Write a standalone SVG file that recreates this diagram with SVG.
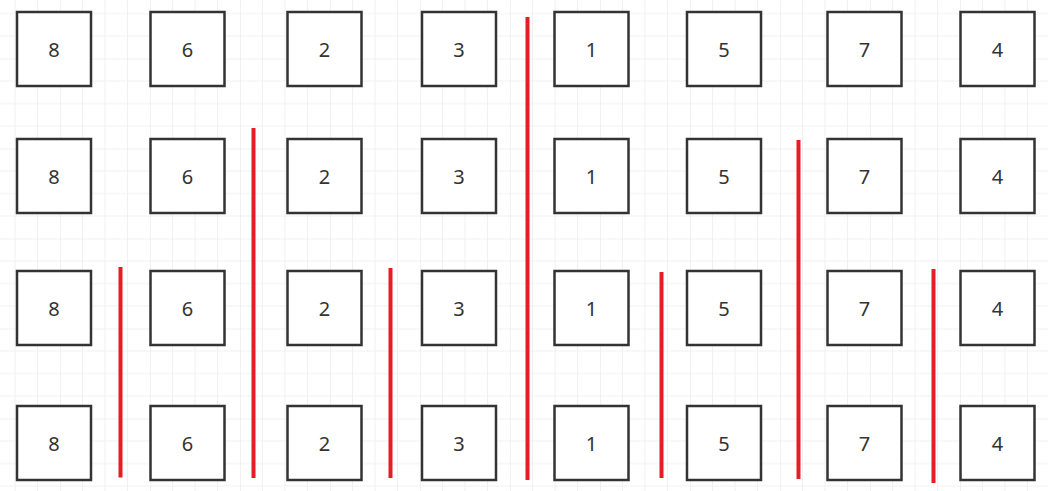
<svg xmlns="http://www.w3.org/2000/svg" width="1048" height="491" viewBox="0 0 1048 491">
<defs>
<pattern id="grid" patternUnits="userSpaceOnUse" x="60" y="58.5" width="90" height="90">
<path d="M22.5 0V90M45 0V90M67.5 0V90M0 22.5H90M0 45H90M0 67.5H90" stroke="#f0f0f0" stroke-width="1" fill="none"/>
<path d="M0 0V90M0 0H90" stroke="#e4e4e4" stroke-width="1" fill="none"/>
</pattern>
<style>
.box rect{fill:#fff;stroke:#333;stroke-width:2.5}
.box text{font-family:"Noto Sans","Liberation Sans",sans-serif;font-size:20px;fill:#333;text-anchor:middle;dominant-baseline:central}
.cut line{stroke:#e81c24;stroke-width:4;stroke-linecap:butt}
</style>
</defs>
<rect width="1048" height="491" fill="#fff"/>
<rect width="1048" height="491" fill="url(#grid)"/>
<g id="row1">
<g id="n1-8" class="box"><rect x="17" y="12" width="74" height="74"/><text x="54" y="49">8</text></g>
<g id="n1-6" class="box"><rect x="150.5" y="12" width="74" height="74"/><text x="187.5" y="49">6</text></g>
<g id="n1-2" class="box"><rect x="287.5" y="12" width="74" height="74"/><text x="324.5" y="49">2</text></g>
<g id="n1-3" class="box"><rect x="422" y="12" width="74" height="74"/><text x="459" y="49">3</text></g>
<g id="n1-1" class="box"><rect x="554.5" y="12" width="74" height="74"/><text x="591.5" y="49">1</text></g>
<g id="n1-5" class="box"><rect x="687" y="12" width="74" height="74"/><text x="724" y="49">5</text></g>
<g id="n1-7" class="box"><rect x="827.5" y="12" width="74" height="74"/><text x="864.5" y="49">7</text></g>
<g id="n1-4" class="box"><rect x="960.5" y="12" width="74" height="74"/><text x="997.5" y="49">4</text></g>
</g>
<g id="row2">
<g id="n2-8" class="box"><rect x="17" y="139" width="74" height="74"/><text x="54" y="176">8</text></g>
<g id="n2-6" class="box"><rect x="150.5" y="139" width="74" height="74"/><text x="187.5" y="176">6</text></g>
<g id="n2-2" class="box"><rect x="287.5" y="139" width="74" height="74"/><text x="324.5" y="176">2</text></g>
<g id="n2-3" class="box"><rect x="422" y="139" width="74" height="74"/><text x="459" y="176">3</text></g>
<g id="n2-1" class="box"><rect x="554.5" y="139" width="74" height="74"/><text x="591.5" y="176">1</text></g>
<g id="n2-5" class="box"><rect x="687" y="139" width="74" height="74"/><text x="724" y="176">5</text></g>
<g id="n2-7" class="box"><rect x="827.5" y="139" width="74" height="74"/><text x="864.5" y="176">7</text></g>
<g id="n2-4" class="box"><rect x="960.5" y="139" width="74" height="74"/><text x="997.5" y="176">4</text></g>
</g>
<g id="row3">
<g id="n3-8" class="box"><rect x="17" y="271" width="74" height="74"/><text x="54" y="308">8</text></g>
<g id="n3-6" class="box"><rect x="150.5" y="271" width="74" height="74"/><text x="187.5" y="308">6</text></g>
<g id="n3-2" class="box"><rect x="287.5" y="271" width="74" height="74"/><text x="324.5" y="308">2</text></g>
<g id="n3-3" class="box"><rect x="422" y="271" width="74" height="74"/><text x="459" y="308">3</text></g>
<g id="n3-1" class="box"><rect x="554.5" y="271" width="74" height="74"/><text x="591.5" y="308">1</text></g>
<g id="n3-5" class="box"><rect x="687" y="271" width="74" height="74"/><text x="724" y="308">5</text></g>
<g id="n3-7" class="box"><rect x="827.5" y="271" width="74" height="74"/><text x="864.5" y="308">7</text></g>
<g id="n3-4" class="box"><rect x="960.5" y="271" width="74" height="74"/><text x="997.5" y="308">4</text></g>
</g>
<g id="row4">
<g id="n4-8" class="box"><rect x="17" y="406" width="74" height="74"/><text x="54" y="443">8</text></g>
<g id="n4-6" class="box"><rect x="150.5" y="406" width="74" height="74"/><text x="187.5" y="443">6</text></g>
<g id="n4-2" class="box"><rect x="287.5" y="406" width="74" height="74"/><text x="324.5" y="443">2</text></g>
<g id="n4-3" class="box"><rect x="422" y="406" width="74" height="74"/><text x="459" y="443">3</text></g>
<g id="n4-1" class="box"><rect x="554.5" y="406" width="74" height="74"/><text x="591.5" y="443">1</text></g>
<g id="n4-5" class="box"><rect x="687" y="406" width="74" height="74"/><text x="724" y="443">5</text></g>
<g id="n4-7" class="box"><rect x="827.5" y="406" width="74" height="74"/><text x="864.5" y="443">7</text></g>
<g id="n4-4" class="box"><rect x="960.5" y="406" width="74" height="74"/><text x="997.5" y="443">4</text></g>
</g>
<g id="connectors" class="cut">
<line x1="527.5" y1="17" x2="527.5" y2="480"/>
<line x1="253.5" y1="128" x2="253.5" y2="478"/>
<line x1="798.5" y1="140" x2="798.5" y2="479"/>
<line x1="120.5" y1="267" x2="120.5" y2="477.5"/>
<line x1="390.5" y1="268" x2="390.5" y2="478"/>
<line x1="661.5" y1="272" x2="661.5" y2="478"/>
<line x1="933.5" y1="269" x2="933.5" y2="483"/>
</g>
</svg>
